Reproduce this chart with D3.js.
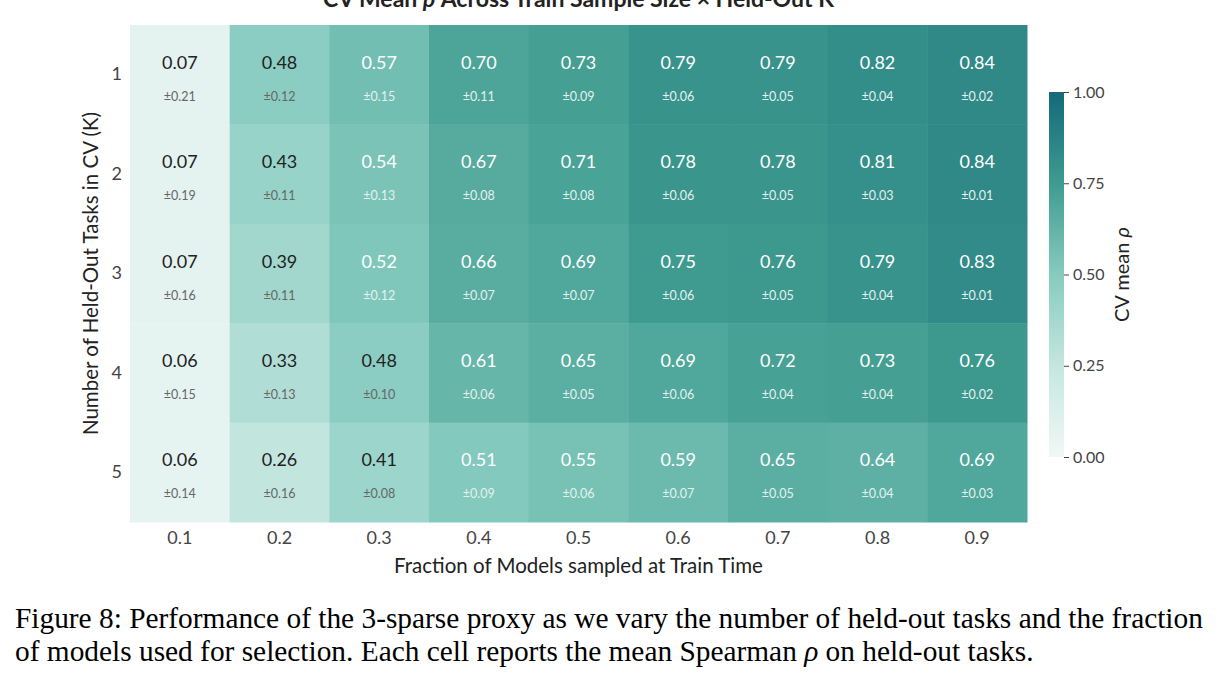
<!DOCTYPE html>
<html>
<head>
<meta charset="utf-8">
<script src="https://cdn.jsdelivr.net/npm/d3@7"></script>
<style>
  body { margin: 0; background: #fff; }
  svg text { font-family: Lato, "Open Sans", sans-serif; }
</style>
</head>
<body>
<svg id="chart" width="1219" height="685"></svg>
<script>
const fractions = ["0.1", "0.2", "0.3", "0.4", "0.5", "0.6", "0.7", "0.8", "0.9"];
const heldOutK = ["1", "2", "3", "4", "5"];

// mean rho, one row per K
const meanK1 = [0.07, 0.48, 0.57, 0.70, 0.73, 0.79, 0.79, 0.82, 0.84];
const meanK2 = [0.07, 0.43, 0.54, 0.67, 0.71, 0.78, 0.78, 0.81, 0.84];
const meanK3 = [0.07, 0.39, 0.52, 0.66, 0.69, 0.75, 0.76, 0.79, 0.83];
const meanK4 = [0.06, 0.33, 0.48, 0.61, 0.65, 0.69, 0.72, 0.73, 0.76];
const meanK5 = [0.06, 0.26, 0.41, 0.51, 0.55, 0.59, 0.65, 0.64, 0.69];

// std across folds
const sdK1 = [0.21, 0.12, 0.15, 0.11, 0.09, 0.06, 0.05, 0.04, 0.02];
const sdK2 = [0.19, 0.11, 0.13, 0.08, 0.08, 0.06, 0.05, 0.03, 0.01];
const sdK3 = [0.16, 0.11, 0.12, 0.07, 0.07, 0.06, 0.05, 0.04, 0.01];
const sdK4 = [0.15, 0.13, 0.10, 0.06, 0.05, 0.06, 0.04, 0.04, 0.02];
const sdK5 = [0.14, 0.16, 0.08, 0.09, 0.06, 0.07, 0.05, 0.04, 0.03];

const colorTicks = [0, 0.25, 0.5, 0.75, 1];

const means = [meanK1, meanK2, meanK3, meanK4, meanK5];
const sds = [sdK1, sdK2, sdK3, sdK4, sdK5];

const cells = [];
heldOutK.forEach((k, i) => {
    fractions.forEach((f, j) => {
        cells.push({ k: k, f: f, mean: means[i][j], sd: sds[i][j] });
    });
});

const svg = d3.select("#chart");

const plot = { left: 130, top: 25, right: 1027, bottom: 522 };

const x = d3.scaleBand().domain(fractions).range([plot.left, plot.right]);
const y = d3.scaleBand().domain(heldOutK).range([plot.top, plot.bottom]);

const color = d3.scaleLinear()
    .domain([0, 0.25, 0.5, 0.75, 1])
    .range(["#f1f8f7", "#c4e6df", "#86cbbf", "#3f9b8f", "#15697a"])
    .interpolate(d3.interpolateRgb);

// title (the figure crops it at the top edge)
const title = svg.append("text")
    .attr("x", (plot.left + plot.right) / 2)
    .attr("y", 7)
    .attr("text-anchor", "middle")
    .attr("font-size", 23)
    .attr("font-weight", "bold")
    .attr("fill", "#222");
title.append("tspan").text("CV Mean ");
title.append("tspan").attr("font-style", "italic").text("ρ");
title.append("tspan").text(" Across Train Sample Size × Held-Out K");

// cells
const cell = svg.append("g").selectAll("g")
    .data(cells)
    .join("g");

cell.append("rect")
    .attr("x", d => x(d.f))
    .attr("y", d => y(d.k))
    .attr("width", x.bandwidth() + 0.5)
    .attr("height", y.bandwidth() + 0.5)
    .attr("fill", d => color(d.mean));

cell.append("text")
    .attr("x", d => x(d.f) + x.bandwidth() / 2)
    .attr("y", d => y(d.k) + y.bandwidth() / 2 - 6)
    .attr("text-anchor", "middle")
    .attr("font-size", 18)
    .attr("fill", d => d.mean < 0.5 ? "#222" : "#fff")
    .text(d => d.mean.toFixed(2));

cell.append("text")
    .attr("x", d => x(d.f) + x.bandwidth() / 2)
    .attr("y", d => y(d.k) + y.bandwidth() / 2 + 26)
    .attr("text-anchor", "middle")
    .attr("font-size", 12.5)
    .attr("fill", d => d.mean < 0.5 ? "#666" : "#e4f1ef")
    .text(d => "±" + d.sd.toFixed(2));

// axes
const xAxis = svg.append("g")
    .attr("transform", `translate(0,${plot.bottom})`)
    .call(d3.axisBottom(x).tickSize(0).tickPadding(9));
xAxis.select(".domain").remove();
xAxis.selectAll("text")
    .attr("font-size", 18)
    .attr("fill", "#444")
    .style("font-family", "Lato, sans-serif");

const yAxis = svg.append("g")
    .attr("transform", `translate(${plot.left},0)`)
    .call(d3.axisLeft(y).tickSize(0).tickPadding(8));
yAxis.select(".domain").remove();
yAxis.selectAll("text")
    .attr("font-size", 18)
    .attr("fill", "#444")
    .style("font-family", "Lato, sans-serif");

svg.append("text")
    .attr("x", (plot.left + plot.right) / 2)
    .attr("y", 573)
    .attr("text-anchor", "middle")
    .attr("font-size", 20.5)
    .attr("fill", "#222")
    .text("Fraction of Models sampled at Train Time");

svg.append("text")
    .attr("transform", `translate(98,${(plot.top + plot.bottom) / 2}) rotate(-90)`)
    .attr("text-anchor", "middle")
    .attr("font-size", 20.5)
    .attr("fill", "#222")
    .text("Number of Held-Out Tasks in CV (K)");

// colorbar
const bar = { x: 1049, w: 15, top: 92, bottom: 457 };
const cy = d3.scaleLinear().domain([0, 1]).range([bar.bottom, bar.top]);

const grad = svg.append("defs").append("linearGradient")
    .attr("id", "cbar")
    .attr("x1", 0).attr("x2", 0).attr("y1", 1).attr("y2", 0);
d3.range(0, 1.001, 0.05).forEach(t => {
    grad.append("stop").attr("offset", t).attr("stop-color", color(t));
});

svg.append("rect")
    .attr("x", bar.x)
    .attr("y", bar.top)
    .attr("width", bar.w)
    .attr("height", bar.bottom - bar.top)
    .attr("fill", "url(#cbar)");

const cAxis = svg.append("g")
    .attr("transform", `translate(${bar.x + bar.w},0)`)
    .call(d3.axisRight(cy).tickValues(colorTicks).tickFormat(d3.format(".2f")).tickSize(5).tickPadding(4));
cAxis.select(".domain").remove();
cAxis.selectAll("line").attr("stroke", "#444");
cAxis.selectAll("text")
    .attr("font-size", 16)
    .attr("fill", "#444")
    .style("font-family", "Lato, sans-serif");

const cLabel = svg.append("text")
    .attr("transform", `translate(1129,${(bar.top + bar.bottom) / 2}) rotate(-90)`)
    .attr("text-anchor", "middle")
    .attr("font-size", 20)
    .attr("fill", "#222");
cLabel.append("tspan").text("CV mean ");
cLabel.append("tspan").attr("font-style", "italic").text("ρ");

// caption
const caption = svg.append("g")
    .attr("font-size", 29)
    .attr("fill", "#000")
    .style("font-family", "'Liberation Serif', 'Times New Roman', serif");

const line1 = caption.append("text")
    .attr("x", 15).attr("y", 628)
    .style("font-family", "'Liberation Serif', serif")
    .text("Figure 8: Performance of the 3-sparse proxy as we vary the number of held-out tasks and the fraction");
// fit the first line to the text block width
const w1 = line1.node().getComputedTextLength();
caption.attr("font-size", 29 * 1188 / w1);

const line2 = caption.append("text")
    .attr("x", 15).attr("y", 661)
    .style("font-family", "'Liberation Serif', serif");
line2.append("tspan").text("of models used for selection. Each cell reports the mean Spearman ");
line2.append("tspan").attr("font-style", "italic").text("ρ");
line2.append("tspan").text(" on held-out tasks.");
</script>
</body>
</html>
